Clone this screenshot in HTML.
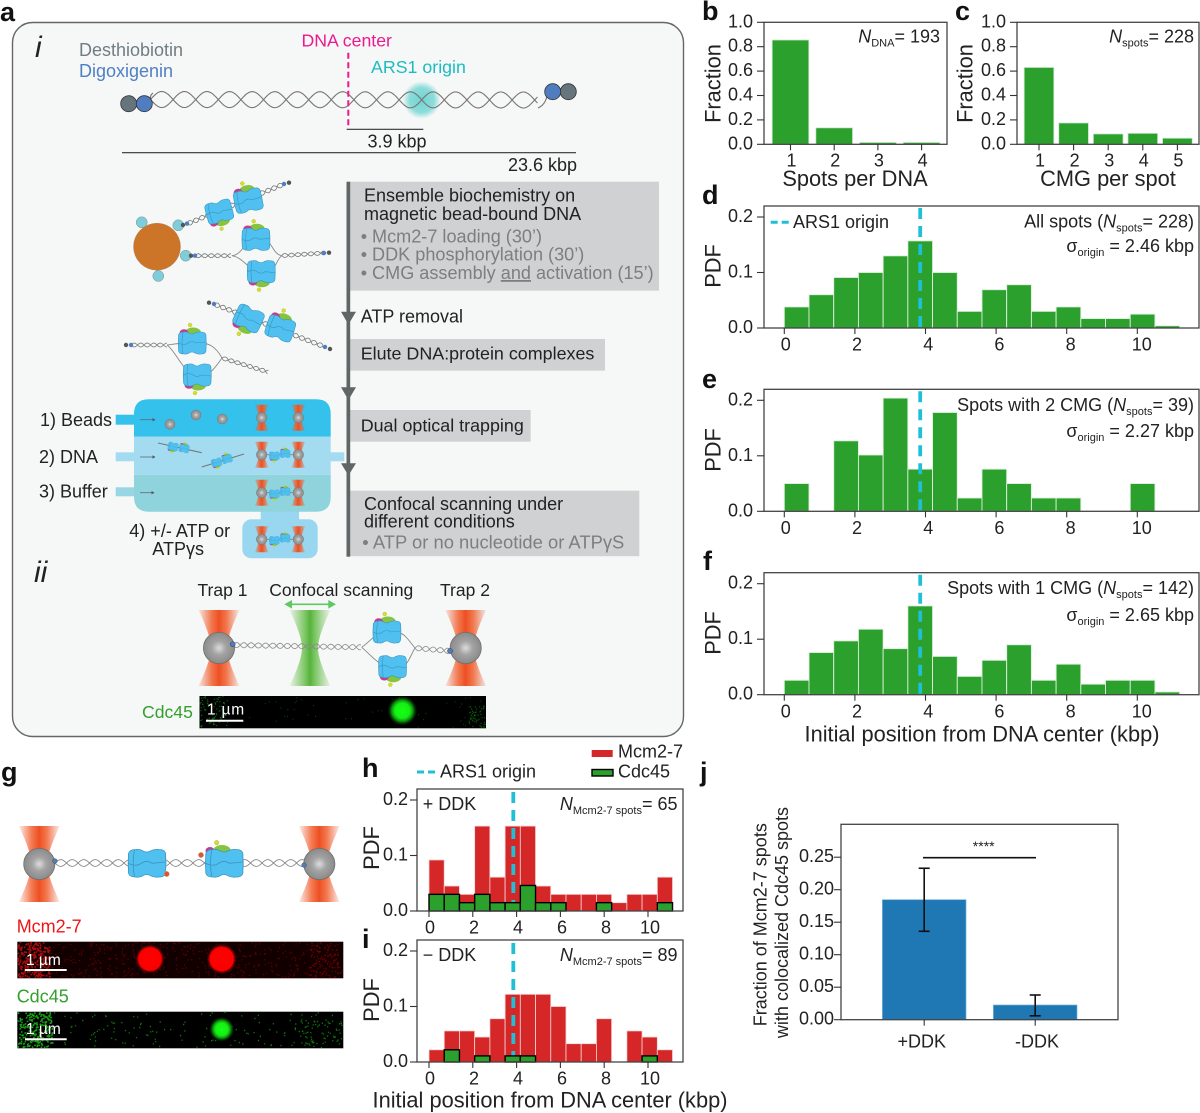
<!DOCTYPE html>
<html lang="en">
<head>
<meta charset="utf-8">
<title>CMG origin firing figure</title>
<style>
html,body{margin:0;padding:0;background:#fff;}
svg{display:block;}
text{font-family:"Liberation Sans",sans-serif;fill:#222;font-size:18px;}
.lbl{font-weight:bold;font-size:27px;fill:#111;}
.ax{font-size:21.8px;}
.gray{fill:#7c7e80;}
</style>
</head>
<body>
<svg id="root" xmlns="http://www.w3.org/2000/svg" width="1200" height="1113" viewBox="0 0 1200 1113">
<defs>
  <linearGradient id="redBeam" x1="0" x2="1" y1="0" y2="0">
    <stop offset="0" stop-color="#ef5a30" stop-opacity="0.1"/><stop offset="0.32" stop-color="#f0602f" stop-opacity="0.85"/><stop offset="0.5" stop-color="#ee4f22"/><stop offset="0.68" stop-color="#f0602f" stop-opacity="0.85"/><stop offset="1" stop-color="#ef5a30" stop-opacity="0.1"/>
  </linearGradient>
  <linearGradient id="greenBeam" x1="0" x2="1" y1="0" y2="0">
    <stop offset="0" stop-color="#63bb45" stop-opacity="0.08"/><stop offset="0.34" stop-color="#63bb45" stop-opacity="0.75"/><stop offset="0.5" stop-color="#55b33a"/><stop offset="0.66" stop-color="#63bb45" stop-opacity="0.75"/><stop offset="1" stop-color="#63bb45" stop-opacity="0.08"/>
  </linearGradient>
  <radialGradient id="beadFill"><stop offset="0" stop-color="#dcdcdc"/><stop offset="0.45" stop-color="#a3a3a3"/><stop offset="1" stop-color="#8b8b8b"/></radialGradient>
  <radialGradient id="glow"><stop offset="0" stop-color="#6fd5d3"/><stop offset="0.65" stop-color="#7fd9d6" stop-opacity="0.9"/><stop offset="1" stop-color="#7fd9d6" stop-opacity="0"/></radialGradient>
  <radialGradient id="greenSpot"><stop offset="0" stop-color="#16ff16"/><stop offset="0.5" stop-color="#14f014"/><stop offset="0.72" stop-color="#0c8f0c"/><stop offset="1" stop-color="#063006" stop-opacity="0"/></radialGradient>
  <radialGradient id="redSpot"><stop offset="0" stop-color="#ff0000"/><stop offset="0.78" stop-color="#fb0000"/><stop offset="1" stop-color="#5a0000" stop-opacity="0"/></radialGradient>

  <g id="cmg-body">
    <path d="M-13.5,-6 Q-14,-11 -8,-11 Q-5,-11.5 -3,-10 Q0,-8 3,-10 Q6,-11.5 9,-11 Q14.5,-11 14,-6 Q14.5,0 14,6 Q14.5,11 9,11 Q6,11.5 3,10 Q0,8 -3,10 Q-5,11.5 -8,11 Q-14,11 -13.5,6 Q-14,0 -13.5,-6Z" fill="#4fc0f0" stroke="#3a95bf" stroke-width="0.6"/>
    <path d="M-13.5,0 Q-8,3 -4,0 Q0,-3 4,0 L14,-1 M-9,-11 Q-11,0 -9,11" fill="none" stroke="#3a95bf" stroke-width="0.6"/>
  </g>
  <g id="cmg">
    <ellipse cx="1" cy="-10.5" rx="8" ry="5" fill="#86c440"/>
    <ellipse cx="-8" cy="-10" rx="4.5" ry="3.8" fill="#c8398f"/>
    <use href="#cmg-body"/>
    <circle cx="-2" cy="-18" r="2" fill="#d6dc2a" stroke="#aab060" stroke-width="0.5" stroke-dasharray="1 1"/>
  </g>
  <g id="mini-trap">
    <path d="M-7,-13 L7,-13 Q3,-5 3,0 Q3,5 7,13 L-7,13 Q-3,5 -3,0 Q-3,-5 -7,-13Z" fill="url(#redBeam)"/>
    <circle r="5.3" fill="url(#beadFill)" stroke="#777" stroke-width="0.5"/>
  </g>
  <g id="mini-pair">
    <line x1="-18" x2="18" y1="0" y2="0" stroke="#7d8a90" stroke-width="0.9"/>
    <use href="#mini-trap" x="-18.3"/><use href="#mini-trap" x="18.3"/>
    <use href="#cmg" transform="translate(-5.7,1) scale(0.36,-0.36)"/>
    <use href="#cmg" transform="translate(5,-1) scale(0.36)"/>
  </g>
  <g id="trap-red">
    <path d="M-20.5,-38 L20.5,-38 Q8,-12 8,0 Q8,12 20.5,38 L-20.5,38 Q-8,12 -8,0 Q-8,-12 -20.5,-38Z" fill="url(#redBeam)"/>
    <circle r="15.6" fill="url(#beadFill)" stroke="#6f6f6f" stroke-width="0.8"/>
  </g>
</defs>

<g id="panel-a">
  <rect x="12.5" y="22.5" width="671" height="714" rx="20" fill="#f6f8f8" stroke="#666" stroke-width="1.4"/>
  <text x="35" y="57" font-style="italic" style="font-size:30px">i</text>
  <text x="34" y="582" font-style="italic" style="font-size:30px">ii</text>
  <text x="79" y="56" style="fill:#6f7e85">Desthiobiotin</text>
  <text x="79" y="77" style="fill:#4f7fc4">Digoxigenin</text>
  <text x="301.5" y="46.5" style="fill:#ec1a8e;font-size:17.7px">DNA center</text>
  <text x="371" y="73" style="fill:#1cbcc0;font-size:17.8px">ARS1 origin</text>
  <circle cx="421.7" cy="100" r="19" fill="url(#glow)"/>
  <g id="helix-layer"></g>
  <path d="M153,93 Q149,96 151,101 M538,108 Q545,105 547,96" fill="none" stroke="#7b7472" stroke-width="1.1"/>
  <line x1="348.3" x2="348.3" y1="52.7" y2="127" stroke="#ec1a8e" stroke-width="2" stroke-dasharray="6 3.5"/>
  <circle cx="128.7" cy="103.7" r="8" fill="#66747b" stroke="#333" stroke-width="0.8"/>
  <circle cx="144.3" cy="103.7" r="8" fill="#4f7dc0" stroke="#333" stroke-width="0.8"/>
  <circle cx="568.3" cy="91.7" r="8" fill="#66747b" stroke="#333" stroke-width="0.8"/>
  <circle cx="552.7" cy="91.7" r="8" fill="#4f7dc0" stroke="#333" stroke-width="0.8"/>
  <line x1="346.7" x2="423.3" y1="129.3" y2="129.3" stroke="#333" stroke-width="1.2"/>
  <text x="397" y="147.5" text-anchor="middle">3.9 kbp</text>
  <line x1="122" x2="576" y1="152.7" y2="152.7" stroke="#333" stroke-width="1.2"/>
  <text x="508" y="171">23.6 kbp</text>

  <!-- magnetic bead complexes -->
  <circle cx="141.7" cy="222.3" r="5.5" fill="#7dcdda" stroke="#888" stroke-width="0.5"/>
  <circle cx="178.3" cy="225.3" r="5.5" fill="#7dcdda" stroke="#888" stroke-width="0.5"/>
  <circle cx="185.7" cy="255.7" r="5.5" fill="#7dcdda" stroke="#888" stroke-width="0.5"/>
  <circle cx="158.3" cy="276" r="5.5" fill="#7dcdda" stroke="#888" stroke-width="0.5"/>
  <circle cx="157" cy="246.7" r="23.5" fill="#cc7428" stroke="#aa8a6a" stroke-width="0.5"/>
  <g stroke="none">
    <circle cx="183" cy="225" r="2.2" fill="#555"/><circle cx="187" cy="223.6" r="2.2" fill="#4f7dc0"/>
    <circle cx="284" cy="184" r="2.2" fill="#4f7dc0"/><circle cx="289" cy="182.7" r="2.2" fill="#555"/>
    <circle cx="191" cy="255.7" r="2.2" fill="#555"/><circle cx="195" cy="255.7" r="2.2" fill="#4f7dc0"/>
    <circle cx="324" cy="253" r="2.2" fill="#4f7dc0"/><circle cx="329" cy="252.7" r="2.2" fill="#555"/>
    <circle cx="209" cy="302.7" r="2.2" fill="#555"/><circle cx="214" cy="304" r="2.2" fill="#4f7dc0"/>
    <circle cx="325" cy="347" r="2.2" fill="#4f7dc0"/><circle cx="330" cy="349" r="2.2" fill="#555"/>
    <circle cx="126" cy="345" r="2.2" fill="#555"/><circle cx="131" cy="345" r="2.2" fill="#4f7dc0"/>
  </g>
  <g fill="none" stroke="#888" stroke-width="0.9">
    <path d="M231.7,255.7 C243,255 245,239 255,239 M231.7,255.7 C243,257 250,272 261,272 M281.7,255.7 C272,254 272,239 262,239 M281.7,255.7 C276,260 276,270 268,272"/>
    <path d="M167,345 C175,344 180,343 190,343 M167,345 C175,350 185,375 195,375 M222,358 C215,345 207,343 200,343 M222,358 C215,368 210,375 202,375"/>
    <path d="M361.7,647.3 C372,640 376,632 386,632 M361.7,647.3 C372,656 380,667 391,667 M415,648 C408,640 405,632 394,632 M415,648 C410,656 408,667 399,667"/>
  </g>
  <g>
    <use href="#cmg" transform="translate(219,211.7) rotate(-15) scale(0.95,-0.95)"/>
    <use href="#cmg" transform="translate(248,200.7) rotate(-12)"/>
    <use href="#cmg" transform="translate(255.7,239.3)"/>
    <use href="#cmg" transform="translate(261,271.7) scale(1,-1)"/>
    <use href="#cmg" transform="translate(248.3,318.3) rotate(25) scale(1,-1)"/>
    <use href="#cmg" transform="translate(280,328.3) rotate(18)"/>
    <use href="#cmg" transform="translate(192,343)"/>
    <use href="#cmg" transform="translate(197,375) scale(1,-1)"/>
  </g>

  <!-- flow cell -->
  <g>
    <rect x="115.7" y="414.7" width="25" height="10" fill="#34c1ec"/>
    <rect x="115.7" y="452.3" width="25" height="9" fill="#a3dcf1"/>
    <rect x="115.7" y="487.3" width="25" height="9" fill="#97d6e2"/>
    <rect x="325" y="452.3" width="19.3" height="9" fill="#a3dcf1"/>
    <rect x="260.7" y="505" width="38.3" height="16" fill="#98d7ef"/>
    <rect x="242.3" y="519.3" width="75.4" height="39" rx="9" fill="#98d7ef"/>
    <path d="M134,436.7 V414 Q134,399.3 149,399.3 H316 Q330.7,399.3 330.7,414 V436.7Z" fill="#34c1ec"/>
    <rect x="134" y="436.7" width="196.7" height="38" fill="#a3dcf1"/>
    <path d="M134,474.7 V497 Q134,511.7 149,511.7 H316 Q330.7,511.7 330.7,497 V474.7Z" fill="#8fd4dc"/>
    <g fill="url(#beadFill)" stroke="#777" stroke-width="0.5">
      <circle cx="170" cy="424.3" r="5"/><circle cx="196" cy="415" r="5"/><circle cx="222.3" cy="419" r="5"/>
    </g>
    <g stroke="#667" stroke-width="0.8">
      <line x1="140" x2="155" y1="419.7" y2="419.7"/><line x1="140" x2="155" y1="457" y2="457"/><line x1="140" x2="154" y1="492.7" y2="492.7"/>
    </g>
    <path d="M152.5,418 L155.5,419.7 L152.5,421.4Z M152.5,455.3 L155.5,457 L152.5,458.7Z M151.5,491 L154.5,492.7 L151.5,494.4Z" fill="#556"/>
    <use href="#mini-trap" x="261.7" y="417.7"/><use href="#mini-trap" x="298.3" y="417.7"/>
    <use href="#mini-pair" x="280" y="454.7"/><use href="#mini-pair" x="280" y="492.7"/><use href="#mini-pair" x="280" y="539.3"/>
    <line x1="158" y1="443" x2="201.7" y2="452.7" stroke="#777" stroke-width="1.1"/>
    <line x1="201.7" y1="467" x2="244" y2="454" stroke="#777" stroke-width="1.1"/>
    <use href="#cmg" transform="translate(173,446.5) rotate(12) scale(0.36,-0.36)"/>
    <use href="#cmg" transform="translate(184,448.5) rotate(12) scale(0.36)"/>
    <use href="#cmg" transform="translate(216.5,462.5) rotate(-15) scale(0.36,-0.36)"/>
    <use href="#cmg" transform="translate(227,459) rotate(-15) scale(0.36)"/>
  </g>
  <text x="40" y="426">1) Beads</text>
  <text x="39" y="463">2) DNA</text>
  <text x="39" y="497.5">3) Buffer</text>
  <text x="129.3" y="537">4) +/- ATP or</text>
  <text x="152.3" y="555">ATPγs</text>

  <!-- workflow steps -->
  <g>
    <rect x="350" y="181.7" width="309" height="109" fill="#d0d1d3"/>
    <rect x="350" y="339" width="255" height="31.7" fill="#d0d1d3"/>
    <rect x="350" y="410" width="180.7" height="31.7" fill="#d0d1d3"/>
    <rect x="350" y="490.7" width="289.3" height="65.5" fill="#d0d1d3"/>
    <rect x="346.5" y="181.7" width="3.7" height="375" fill="#5f6665"/>
    <path d="M341,311.7 H356 L348.4,324.5Z M341,387.3 H356 L348.4,400Z M341,463.3 H356 L348.4,475.5Z" fill="#5f6665"/>
  </g>
  <text x="364" y="201.7">Ensemble biochemistry on</text>
  <text x="364" y="220">magnetic bead-bound DNA</text>
  <text x="360.7" y="242.7" class="gray" style="font-size:18.1px">• Mcm2-7 loading (30’)</text>
  <text x="360.7" y="260.7" class="gray" style="font-size:18.1px">• DDK phosphorylation (30’)</text>
  <text x="360.7" y="279" class="gray" style="font-size:18.1px">• CMG assembly <tspan text-decoration="underline">and</tspan> activation (15’)</text>
  <text x="360.7" y="322.7">ATP removal</text>
  <text x="360.7" y="359.3" style="font-size:17.9px">Elute DNA:protein complexes</text>
  <text x="360.7" y="431.7" style="font-size:17.9px">Dual optical trapping</text>
  <text x="364" y="510">Confocal scanning under</text>
  <text x="364" y="527.7">different conditions</text>
  <text x="362.3" y="548.3" class="gray" style="font-size:18.4px">• ATP or no nucleotide or ATPγS</text>

  <!-- section ii -->
  <text x="197.5" y="596" style="font-size:17.5px">Trap 1</text>
  <text x="269.3" y="596" style="font-size:17.5px">Confocal scanning</text>
  <text x="440" y="596" style="font-size:17.5px">Trap 2</text>
  <path d="M289.5,610 L330.5,610 Q318,636 318,648 Q318,660 330.5,686 L289.5,686 Q302,660 302,648 Q302,636 289.5,610Z" fill="url(#greenBeam)"/>
  <path d="M284.3,604.3 L292,600 V603.5 H328.3 V600 L336,604.3 L328.3,608.6 V605.1 H292 V608.6Z" fill="#5ec95e"/>
  <g id="helix-layer-2"></g>
  <use href="#trap-red" x="219" y="648"/>
  <use href="#trap-red" x="465.7" y="648"/>
  <circle cx="232.7" cy="644.3" r="2.5" fill="#4f7dc0" stroke="#334" stroke-width="0.5"/>
  <circle cx="450" cy="651" r="2.5" fill="#4f7dc0" stroke="#334" stroke-width="0.5"/>
  <use href="#cmg" transform="translate(386.7,632)"/>
  <use href="#cmg" transform="translate(392.3,666.7) scale(1,-1)"/>
  <text x="142" y="718" style="fill:#33a02c;font-size:17.6px">Cdc45</text>
  <rect x="199.5" y="696" width="286.5" height="32.3" fill="#000"/>
  <g id="noise-a"></g>
  <circle cx="402.3" cy="710.7" r="15" fill="url(#greenSpot)"/>
  <line x1="206" x2="243.3" y1="720.7" y2="720.7" stroke="#fff" stroke-width="2"/>
  <text x="207" y="714.3" style="fill:#fff;font-size:15.5px;letter-spacing:0.8px">1 µm</text>
</g>

<!-- panel g -->
<g>
  <g id="helix-layer-3"></g>
  <use href="#trap-red" x="39.3" y="864"/>
  <use href="#trap-red" x="319.3" y="864"/>
  <circle cx="55" cy="861" r="2.3" fill="#4f7dc0" stroke="#334" stroke-width="0.4"/>
  <circle cx="304" cy="865" r="2.3" fill="#4f7dc0" stroke="#334" stroke-width="0.4"/>
  <use href="#cmg-body" transform="translate(146.7,863.3) scale(1.35,1.25)"/>
  <circle cx="166.7" cy="874" r="2.6" fill="#e8502a" stroke="#aaa" stroke-width="0.5"/>
  <ellipse cx="222" cy="850" rx="8.5" ry="5" fill="#86c440"/>
  <ellipse cx="210" cy="851" rx="4.5" ry="4" fill="#c8398f"/>
  <use href="#cmg-body" transform="translate(224,863.3) scale(1.35,1.25)"/>
  <circle cx="216.7" cy="842.7" r="2.3" fill="#d6dc2a" stroke="#aab060" stroke-width="0.5"/>
  <circle cx="201" cy="855" r="2.6" fill="#e8502a" stroke="#aaa" stroke-width="0.5"/>
  <text x="16.7" y="932.7" style="fill:#f01414">Mcm2-7</text>
  <rect x="17.3" y="941.7" width="326" height="36.6" fill="#120000"/>
  <g id="noise-g-red"></g>
  <circle cx="150" cy="959" r="14.5" fill="url(#redSpot)"/>
  <circle cx="221.7" cy="959" r="15" fill="url(#redSpot)"/>
  <line x1="25" x2="66.7" y1="970" y2="970" stroke="#fff" stroke-width="2"/>
  <text x="26" y="965" style="fill:#fff;font-size:15.5px">1 µm</text>
  <text x="16.7" y="1002.7" style="fill:#33a02c">Cdc45</text>
  <rect x="17.3" y="1011.7" width="326" height="36.6" fill="#000"/>
  <g id="noise-g-green"></g>
  <circle cx="221.7" cy="1029.3" r="12.5" fill="url(#greenSpot)"/>
  <line x1="25" x2="66.7" y1="1039.3" y2="1039.3" stroke="#fff" stroke-width="2"/>
  <text x="26" y="1034" style="fill:#fff;font-size:15.5px">1 µm</text>
</g>

<!-- panel letters -->
<text x="0" y="21" class="lbl">a</text>
<text x="702" y="20" class="lbl">b</text>
<text x="955" y="20" class="lbl">c</text>
<text x="702" y="204" class="lbl">d</text>
<text x="702" y="388" class="lbl">e</text>
<text x="703" y="570" class="lbl">f</text>
<text x="1" y="781" class="lbl">g</text>
<text x="362" y="777" class="lbl">h</text>
<text x="362" y="948" class="lbl">i</text>
<text x="700" y="781" class="lbl">j</text>

<g id="charts"></g>

<!-- chart annotations -->
<g>
  <text x="940" y="42.7" text-anchor="end"><tspan font-style="italic">N</tspan><tspan dy="4" style="font-size:11px">DNA</tspan><tspan dy="-4">= 193</tspan></text>
  <text x="1194" y="42.7" text-anchor="end"><tspan font-style="italic">N</tspan><tspan dy="4" style="font-size:11px">spots</tspan><tspan dy="-4">= 228</tspan></text>
  <text x="1194" y="227.7" text-anchor="end">All spots (<tspan font-style="italic">N</tspan><tspan dy="4" style="font-size:11px">spots</tspan><tspan dy="-4">= 228)</tspan></text>
  <text x="1194" y="252" text-anchor="end">σ<tspan dy="4" style="font-size:11px">origin</tspan><tspan dy="-4"> = 2.46 kbp</tspan></text>
  <text x="1194" y="411" text-anchor="end">Spots with 2 CMG (<tspan font-style="italic">N</tspan><tspan dy="4" style="font-size:11px">spots</tspan><tspan dy="-4">= 39)</tspan></text>
  <text x="1194" y="437" text-anchor="end">σ<tspan dy="4" style="font-size:11px">origin</tspan><tspan dy="-4"> = 2.27 kbp</tspan></text>
  <text x="1194" y="594" text-anchor="end">Spots with 1 CMG (<tspan font-style="italic">N</tspan><tspan dy="4" style="font-size:11px">spots</tspan><tspan dy="-4">= 142)</tspan></text>
  <text x="1194" y="621" text-anchor="end">σ<tspan dy="4" style="font-size:11px">origin</tspan><tspan dy="-4"> = 2.65 kbp</tspan></text>
  <line x1="770.7" x2="789.3" y1="222.3" y2="222.3" stroke="#1fc0d6" stroke-width="3" stroke-dasharray="7 4"/>
  <text x="793" y="228">ARS1 origin</text>
  <line x1="417" x2="435" y1="772" y2="772" stroke="#1fc0d6" stroke-width="3" stroke-dasharray="7 4"/>
  <text x="440" y="777.5">ARS1 origin</text>
  <rect x="591.7" y="750" width="21" height="7" fill="#d62728"/>
  <text x="618" y="757.5">Mcm2-7</text>
  <rect x="592" y="769.5" width="21" height="6.5" fill="#2ca02c" stroke="#000" stroke-width="1.4"/>
  <text x="618" y="777.5">Cdc45</text>
  <text x="422.7" y="810">+ DDK</text>
  <text x="422.7" y="961">− DDK</text>
  <text x="677.5" y="810" text-anchor="end"><tspan font-style="italic">N</tspan><tspan dy="4" style="font-size:11px">Mcm2-7 spots</tspan><tspan dy="-4">= 65</tspan></text>
  <text x="677.5" y="961" text-anchor="end"><tspan font-style="italic">N</tspan><tspan dy="4" style="font-size:11px">Mcm2-7 spots</tspan><tspan dy="-4">= 89</tspan></text>
</g>

<script>
// ---------- chart data ----------
const spotsPerDnaCats = ["1","2","3","4"];
const spotsPerDnaVals = [0.855,0.135,0.015,0.015];
const cmgPerSpotCats = ["1","2","3","4","5"];
const cmgPerSpotVals = [0.63,0.175,0.085,0.09,0.05];
const fractionTicks = [0,0.2,0.4,0.6,0.8,1.0];
const kbpTicks = [0,2,4,6,8,10];
const pdfTicks = [0,0.1,0.2];
const originKbp = 3.85;
const allSpotsPdf = [0.038,0.06,0.091,0.1,0.13,0.157,0.1,0.03,0.069,0.078,0.03,0.038,0.017,0.017,0.025,0.004];
const twoCmgPdf = [0.05,0,0.127,0.1015,0.204,0.076,0.178,0.024,0.076,0.05,0.024,0.024,0,0,0.05,0];
const oneCmgPdf = [0.026,0.076,0.097,0.118,0.083,0.16,0.069,0.033,0.062,0.09,0.026,0.055,0.019,0.026,0.026,0.005];
const plusDdkMcm = [0.092,0.045,0.03,0.153,0.061,0.153,0.153,0.045,0.03,0.03,0.03,0.03,0.015,0.03,0.03,0.061];
const plusDdkCdc = [0.03,0.03,0.015,0.03,0.015,0.015,0.046,0.015,0.015,0,0,0.015,0,0,0,0.015];
const minusDdkMcm = [0.022,0.056,0.056,0.045,0.078,0.122,0.122,0.122,0.1,0.033,0.033,0.078,0,0.056,0.045,0.022];
const minusDdkCdc = [0,0.022,0,0.011,0,0.011,0.011,0,0,0,0,0,0,0,0.011,0];
const colocCats = ["+DDK","-DDK"];
const colocVals = [0.1846,0.0226];
const colocLow = [0.136,0.006];
const colocHigh = [0.233,0.038];
const colocTicks = [0,0.05,0.10,0.15,0.20,0.25];

// ---------- helpers ----------
const NS = 'http://www.w3.org/2000/svg';
const charts = document.getElementById('charts');
function mk(tag, attrs, parent, name, txt){
  const el = document.createElementNS(NS, tag);
  for (const k in attrs) el.setAttribute(k, attrs[k]);
  
  
  if (txt !== undefined) el.textContent = txt;
  parent.appendChild(el);
  return el;
}
const SPINE = '#444', TICK = '#333';
function frame(g, x1, y1, x2, y2){
  mk('rect', {x:x1, y:y1, width:x2-x1, height:y2-y1, fill:'none', stroke:SPINE, 'stroke-width':1.3}, g, 'plot-frame');
}
function yAxis(g, ticks, yFn, xAxis, labelRight, digits){
  ticks.forEach(function(t){
    const y = yFn(t);
    mk('line', {x1:xAxis-7, x2:xAxis, y1:y, y2:y, stroke:TICK, 'stroke-width':1.1}, g, 'y-tick');
    mk('text', {x:labelRight, y:y+5, 'text-anchor':'end'}, g, 'y-tick-label', t.toFixed(digits));
  });
}
function xAxisTicks(g, ticks, labels, xFn, yAxisPos, baseline, dx, stretch){
  ticks.forEach(function(t, i){
    const x = xFn(t);
    mk('line', {x1:x, x2:x, y1:yAxisPos, y2:yAxisPos+6, stroke:TICK, 'stroke-width':1.1}, g, 'x-tick');
    mk('text', {x:x+dx+t*stretch, y:baseline, 'text-anchor':'middle'}, g, 'x-tick-label', labels[i]);
  });
}
function yTitle(g, text, xBase, yc){
  mk('text', {x:xBase, y:yc, 'text-anchor':'middle', class:'ax', transform:'rotate(-90 '+xBase+' '+yc+')'}, g, 'y-axis-title', text);
}
function originLine(g, xFn, y1, y2){
  mk('line', {x1:xFn(originKbp), x2:xFn(originKbp), y1:y1, y2:y2, stroke:'#1fc0d6', 'stroke-width':3.8, 'stroke-dasharray':'11 7'}, g, 'ars1-origin-line');
}
function histBars(g, vals, xFn, yFn, binW, fill, edge, sw, name){
  vals.forEach(function(v, i){
    if (v <= 0) return;
    const x = xFn(i*binW), w = xFn((i+1)*binW)-x, y = yFn(v), h = yFn(0)-y;
    mk('rect', {x:x, y:y, width:w, height:h, fill:fill, stroke:edge, 'stroke-width':sw}, g, name);
  });
}

// ---------- panel b / c ----------
function barPanel(name, cats, vals, x1, x2, c0, step, w, labelRight, titleX, xTitle, titleC){
  const g = mk('g', {}, charts, name);
  const yS = function(v){ return 144.3 - v*122; };
  const xS = function(i){ return c0 + i*step; };
  vals.forEach(function(v, i){
    mk('rect', {x:xS(i)-w/2, y:yS(v), width:w, height:yS(0)-yS(v), fill:'#2ca02c', stroke:'#cfe8cf', 'stroke-width':0.8}, g, 'bar-'+cats[i]);
  });
  frame(g, x1, 22.3, x2, 144.3);
  yAxis(g, fractionTicks, yS, x1, labelRight, 1);
  xAxisTicks(g, cats.map(function(c, i){ return i; }), cats, xS, 144.3, 166.7, 1, 0);
  yTitle(g, 'Fraction', titleX, 83.5);
  mk('text', {x:titleC, y:186, 'text-anchor':'middle', class:'ax'}, g, 'x-axis-title', xTitle);
}
barPanel('panel-b', spotsPerDnaCats, spotsPerDnaVals, 764, 947, 790.5, 43.7, 36.7, 753, 720.7, 'Spots per DNA', 855);
barPanel('panel-c', cmgPerSpotCats, cmgPerSpotVals, 1017, 1199, 1039, 34.6, 29.7, 1006, 972.7, 'CMG per spot', 1108);

// ---------- panels d, e, f ----------
const xKbpRight = function(k){ return 784.3 + k*35.3; };
function pdfPanel(name, vals, top, bottom, titleY, labelBaseline){
  const g = mk('g', {}, charts, name);
  const yS = function(v){ return bottom - v*555; };
  histBars(g, vals, xKbpRight, yS, 0.7, '#2ca02c', '#dcefdc', 0.9, 'histogram-bar');
  originLine(g, xKbpRight, top+2, bottom);
  frame(g, 764, top, 1199, bottom);
  yAxis(g, pdfTicks, yS, 764, 753, 1);
  xAxisTicks(g, kbpTicks, kbpTicks.map(String), xKbpRight, bottom, labelBaseline, 1.5, 0.3);
  yTitle(g, 'PDF', 720.7, titleY);
}
pdfPanel('panel-d', allSpotsPdf, 206, 328, 266, 350.7);
pdfPanel('panel-e', twoCmgPdf, 389.3, 511.3, 450, 534);
pdfPanel('panel-f', oneCmgPdf, 572.7, 694.7, 633, 717.5);
mk('text', {x:982, y:741.5, 'text-anchor':'middle', class:'ax'}, charts, 'x-axis-title', 'Initial position from DNA center (kbp)');

// ---------- panels h, i ----------
const xKbpMid = function(k){ return 429 + k*21.9; };
function ddkPanel(name, red, green, top, bottom, titleY, labelBaseline){
  const g = mk('g', {}, charts, name);
  const yS = function(v){ return bottom - v*555; };
  histBars(g, red, xKbpMid, yS, 0.695, '#d62728', '#f4d5d5', 0.8, 'mcm-bar');
  originLine(g, xKbpMid, top+3, bottom);
  histBars(g, green, xKbpMid, yS, 0.695, '#2ca02c', '#000', 1.4, 'cdc45-bar');
  frame(g, 417, top, 683, bottom);
  yAxis(g, pdfTicks, yS, 417, 408, 1);
  xAxisTicks(g, kbpTicks, kbpTicks.map(String), xKbpMid, bottom, labelBaseline, 1, 0.1);
  yTitle(g, 'PDF', 379, titleY);
}
ddkPanel('panel-h', plusDdkMcm, plusDdkCdc, 789, 911, 848, 933.5);
ddkPanel('panel-i', minusDdkMcm, minusDdkCdc, 940, 1062, 1000, 1084.5);
mk('text', {x:550, y:1107.5, 'text-anchor':'middle', class:'ax'}, charts, 'x-axis-title', 'Initial position from DNA center (kbp)');

// ---------- panel j ----------
(function(){
  const g = mk('g', {}, charts, 'panel-j');
  const yS = function(v){ return 1019.7 - v*650; };
  const xS = function(i){ return 924.2 + i*111; };
  colocVals.forEach(function(v, i){
    mk('rect', {x:xS(i)-41.8, y:yS(v), width:83.6, height:yS(0)-yS(v), fill:'#1f77b4', stroke:'#6fb0dc', 'stroke-width':0.7}, g, 'bar-'+colocCats[i]);
    mk('line', {x1:xS(i), x2:xS(i), y1:yS(colocHigh[i]), y2:yS(colocLow[i]), stroke:'#111', 'stroke-width':1.6}, g, 'error-bar');
    mk('line', {x1:xS(i)-5.5, x2:xS(i)+5.5, y1:yS(colocHigh[i]), y2:yS(colocHigh[i]), stroke:'#111', 'stroke-width':1.6}, g, 'error-cap-high');
    mk('line', {x1:xS(i)-5.5, x2:xS(i)+5.5, y1:yS(colocLow[i]), y2:yS(colocLow[i]), stroke:'#111', 'stroke-width':1.6}, g, 'error-cap-low');
  });
  frame(g, 841, 824.3, 1118, 1019.7);
  yAxis(g, colocTicks, yS, 841, 834, 2);
  xAxisTicks(g, [0,1], colocCats, xS, 1019.7, 1047.7, -2.5, 4.3);
  mk('line', {x1:923, x2:1036, y1:857.7, y2:857.7, stroke:'#111', 'stroke-width':1.6}, g, 'significance-bar');
  mk('text', {x:983.7, y:851, 'text-anchor':'middle', style:'font-size:14px'}, g, 'significance-stars', '****');
  mk('text', {x:766.7, y:924.7, 'text-anchor':'middle', transform:'rotate(-90 766.7 924.7)'}, g, 'y-axis-title-line-1', 'Fraction of Mcm2-7 spots');
  mk('text', {x:788, y:922.5, 'text-anchor':'middle', transform:'rotate(-90 788 922.5)'}, g, 'y-axis-title-line-2', 'with colocalized Cdc45 spots');
})();

// ---------- schematic DNA ----------
function helix(layer, x1, y1, x2, y2, amp, period, color, sw){
  const len = Math.hypot(x2-x1, y2-y1), ux = (x2-x1)/len, uy = (y2-y1)/len;
  [0, Math.PI].forEach(function(ph){
    let d = '';
    for (let s = 0; s <= len; s += 1){
      const o = amp*Math.sin(2*Math.PI*s/period + ph);
      const px = x1 + ux*s - uy*o, py = y1 + uy*s + ux*o;
      d += (s === 0 ? 'M' : 'L') + px.toFixed(1) + ',' + py.toFixed(1);
    }
    mk('path', {d:d, fill:'none', stroke:color, 'stroke-width':sw}, layer, 'dna-strand');
  });
}
const h1 = document.getElementById('helix-layer');
const h2 = document.getElementById('helix-layer-2');
const h3 = document.getElementById('helix-layer-3');
helix(h1, 150.5, 99.5, 538, 100, 8, 45.2, '#7b7472', 1.1);
helix(h1, 187, 224, 284, 184, 2.3, 13, '#777', 0.8);
helix(h1, 195, 255.7, 231.7, 255.7, 2, 13, '#777', 0.8);
helix(h1, 281.7, 255.7, 324, 253, 2, 13, '#777', 0.8);
helix(h1, 214, 304, 325, 347, 2.3, 13, '#777', 0.8);
helix(h1, 131, 345, 167, 345, 2, 13, '#777', 0.8);
helix(h1, 222, 358, 268, 372, 2, 13, '#777', 0.8);
helix(h2, 233, 645, 361.7, 647.3, 2.6, 14.5, '#8a8a8a', 0.8);
helix(h2, 415, 648, 450, 651, 2.6, 14.5, '#8a8a8a', 0.8);
helix(h3, 55, 863, 305, 863, 3.4, 23, '#8a8a8a', 0.9);

// ---------- microscope background speckle (decorative) ----------
let seed = 12345;
function nextVal(){ seed = (seed*16807) % 2147483647; return seed/2147483647; }
function speckle(id, x, y, w, h, n, color, op, size){
  const g = document.getElementById(id);
  
  
  let d = '';
  for (let i = 0; i < n; i++){
    const px = x + nextVal()*(w-size), py = y + nextVal()*(h-size);
    d += 'M'+px.toFixed(1)+','+py.toFixed(1)+'h'+size+'v'+size+'h-'+size+'z';
  }
  mk('path', {d:d, fill:color, opacity:op}, g, 'speckle-layer');
}
speckle('noise-a', 199.5, 696, 286.5, 32.3, 60, '#0d6a0d', 0.7, 1);
speckle('noise-a', 199.5, 696, 28, 32.3, 90, '#109010', 0.7, 1.2);
speckle('noise-a', 468, 705, 18, 23, 50, '#0f850f', 0.7, 1.2);
speckle('noise-g-red', 17.3, 941.7, 326, 36.6, 500, '#6a0000', 0.8, 1.3);
speckle('noise-g-red', 17.3, 941.7, 34, 36.6, 260, '#c01010', 0.85, 1.6);
speckle('noise-g-red', 310, 941.7, 33, 36.6, 90, '#8a0000', 0.8, 1.3);
speckle('noise-g-green', 17.3, 1011.7, 326, 36.6, 150, '#108a10', 0.85, 1.3);
speckle('noise-g-green', 17.3, 1011.7, 36, 36.6, 220, '#1bb01b', 0.9, 1.6);
speckle('noise-g-green', 300, 1020, 43, 28, 60, '#108a10', 0.85, 1.3);
</script>
</svg>
</body>
</html>
